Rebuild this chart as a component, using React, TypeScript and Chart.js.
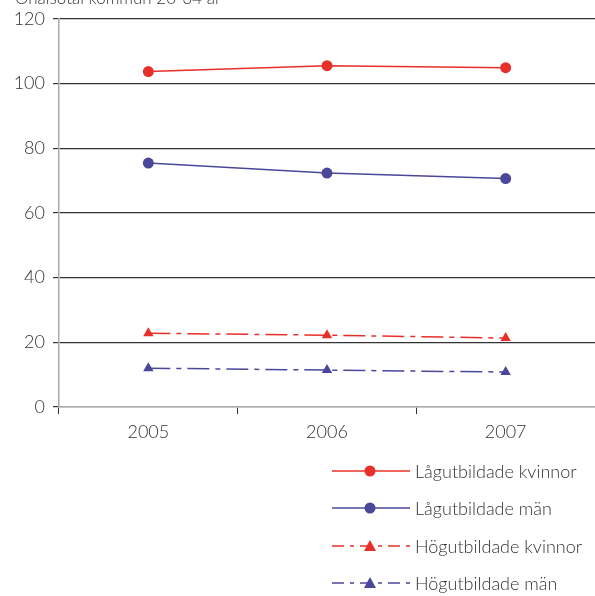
import React, { useEffect, useRef } from "react";
import { Chart, registerables } from "chart.js";

Chart.register(...registerables);

const years = ["2005", "2006", "2007"];
const lagKvinnor = [103.7, 105.5, 104.9];
const lagMan = [75.4, 72.3, 70.6];
const hogKvinnor = [22.8, 22.2, 21.3];
const hogMan = [12.0, 11.4, 10.8];
const yTicks = [0, 20, 40, 60, 80, 100, 120];
const titleText = "Ohälsotal kommun 20-64 år";

const RED = "#e8302a";
const BLUE = "#4a479b";
const TEXT = "#333333";
const FONT = "Lato";
const WEIGHT = "300";
const DASHDOT = [22, 6, 5, 6];

export default function App() {
  const ref = useRef<HTMLCanvasElement | null>(null);
  useEffect(() => {
    document.body.style.margin = "0";
    const canvas = ref.current!;
    const legendPlugin = {
      id: "customLegend",
      afterDraw(chart: any) {
        const ctx = chart.ctx;
        ctx.save();
        ctx.fillStyle = TEXT;
        ctx.font = `${WEIGHT} 17px ${FONT}`;
        ctx.textBaseline = "alphabetic";
        ctx.textAlign = "left";
        ctx.fillText(titleText, 15, 4);
        const rows = [471, 508, 546, 583];
        chart.data.datasets.forEach((ds: any, i: number) => {
          const y = rows[i];
          ctx.strokeStyle = ds.borderColor;
          ctx.lineWidth = 1.5;
          ctx.setLineDash(ds.borderDash && ds.borderDash.length ? [12, 6, 4, 6] : []);
          ctx.beginPath();
          ctx.moveTo(332, y);
          ctx.lineTo(410, y);
          ctx.stroke();
          ctx.setLineDash([]);
          ctx.fillStyle = ds.borderColor;
          ctx.beginPath();
          if (ds.pointStyle === "triangle") {
            ctx.moveTo(370, y - 6);
            ctx.lineTo(376, y + 5);
            ctx.lineTo(364, y + 5);
            ctx.closePath();
          } else {
            ctx.arc(370, y, 5.5, 0, Math.PI * 2);
          }
          ctx.fill();
          ctx.fillStyle = TEXT;
          ctx.font = `${WEIGHT} 18px ${FONT}`;
          ctx.textBaseline = "middle";
          ctx.fillText(ds.label, 415, y + 1);
        });
        ctx.restore();
      },
    };
    const mk = (label: string, data: number[], color: string, style: string, dashed: boolean) => ({
      label,
      data,
      borderColor: color,
      backgroundColor: color,
      borderWidth: 1.5,
      borderDash: dashed ? DASHDOT : [],
      pointStyle: style,
      pointRadius: style === "triangle" ? 6 : 5.5,
      pointBackgroundColor: color,
      pointBorderColor: color,
      pointBorderWidth: 0,
      tension: 0,
    });
    const chart = new Chart(canvas, {
      type: "line",
      data: {
        labels: years,
        datasets: [
          mk("Lågutbildade kvinnor", lagKvinnor, RED, "circle", false),
          mk("Lågutbildade män", lagMan, BLUE, "circle", false),
          mk("Högutbildade kvinnor", hogKvinnor, RED, "triangle", true),
          mk("Högutbildade män", hogMan, BLUE, "triangle", true),
        ],
      },
      options: {
        animation: false,
        responsive: false,
        devicePixelRatio: 1,
        layout: { autoPadding: false, padding: { top: 17, right: 0, left: 0, bottom: 0 } },
        plugins: { legend: { display: false }, tooltip: { enabled: false }, title: { display: false } },
        scales: {
          x: {
            offset: true,
            grid: {
              offset: true,
              drawOnChartArea: false,
              drawTicks: true,
              tickLength: 7,
              color: "#333333",
              lineWidth: 1,
            },
            border: { display: true, color: "#aaaaaa", width: 1.5 },
            ticks: { color: TEXT, font: { family: FONT, size: 18, weight: WEIGHT }, padding: 7 },
            afterFit(scale: any) {
              scale.height = 596 - 407;
              scale.paddingLeft = 0;
              scale.paddingRight = 0;
            },
          },
          y: {
            min: 0,
            max: 120,
            afterBuildTicks(scale: any) {
              scale.ticks = yTicks.map((v) => ({ value: v }));
            },
            grid: {
              color: (c: any) => (c.tick && c.tick.value === 0 ? "#aaaaaa" : "#333333"),
              lineWidth: 1.2,
              tickLength: 6,
              tickColor: "#333333",
            },
            border: { display: true, color: "#aaaaaa", width: 1.5 },
            ticks: { color: TEXT, font: { family: FONT, size: 18, weight: WEIGHT }, padding: 8 },
            afterFit(scale: any) {
              scale.width = 59;
            },
          },
        },
      },
      plugins: [legendPlugin],
    } as any);
    return () => chart.destroy();
  }, []);
  return (
    <div style={{ position: "fixed", left: 0, top: 0, width: 595, height: 596, background: "#fff" }}>
      <canvas ref={ref} width={595} height={596} style={{ display: "block", width: 595, height: 596 }} />
    </div>
  );
}
